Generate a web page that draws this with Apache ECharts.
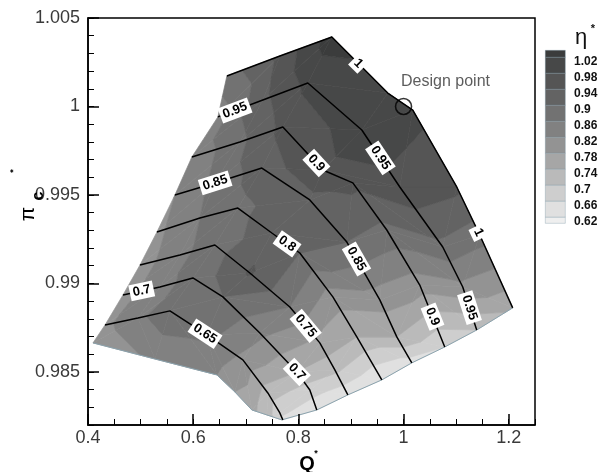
<!DOCTYPE html>
<html><head><meta charset="utf-8">
<script src="https://cdn.jsdelivr.net/npm/echarts@6/dist/echarts.min.js"></script>
<style>html,body{margin:0;padding:0;background:#fff}#c{width:599px;height:472px}</style>
</head><body><div id="c"></div>
<script>
// ---- speed lines (Q*, pi*_c) from surge to choke, and efficiency eta* at each node ----
const speeds = [0.6, 0.65, 0.7, 0.75, 0.8, 0.85, 0.9, 0.95, 1.0];
const q060 = [0.4095,0.5273,0.6451,0.6793,0.7116,0.7401,0.7572,0.7686];
const p060 = [0.98664,0.98573,0.98483,0.98387,0.98285,0.98257,0.98240,0.98229];
const e060 = [0.79,0.83,0.82,0.78,0.75,0.72,0.69,0.66];
const q065 = [0.4323,0.4950,0.5558,0.6261,0.6945,0.7420,0.7648,0.7705];
const p065 = [0.98765,0.98805,0.98845,0.98709,0.98568,0.98381,0.98268,0.98229];
const e065 = [0.81,0.85,0.89,0.87,0.81,0.72,0.67,0.65];
const q070 = [0.4665,0.5368,0.5995,0.6565,0.7268,0.7971,0.8218,0.8351];
const p070 = [0.98935,0.98980,0.99031,0.98924,0.98720,0.98500,0.98398,0.98285];
const e070 = [0.80,0.85,0.87,0.90,0.83,0.74,0.68,0.63];
const q075 = [0.4988,0.5748,0.6413,0.7078,0.7838,0.8408,0.8694,0.8941];
const p075 = [0.99104,0.99161,0.99217,0.99059,0.98867,0.98664,0.98511,0.98370];
const e075 = [0.80,0.85,0.88,0.945,0.86,0.77,0.71,0.63];
const q080 = [0.5311,0.6128,0.6850,0.7496,0.8028,0.8656,0.9112,0.9587];
const p080 = [0.99291,0.99370,0.99426,0.99285,0.99172,0.98924,0.98698,0.98455];
const e080 = [0.81,0.86,0.89,0.92,0.90,0.80,0.74,0.62];
const q085 = [0.5653,0.6413,0.7306,0.8218,0.8922,0.9549,0.9872,1.0157];
const p085 = [0.99500,0.99568,0.99652,0.99472,0.99234,0.98907,0.98698,0.98551];
const e085 = [0.82,0.87,0.92,0.93,0.90,0.80,0.74,0.64];
const q090 = [0.5976,0.6888,0.7705,0.8465,0.9036,0.9682,1.0309,1.0784];
const p090 = [0.99715,0.99799,0.99884,0.99641,0.99568,0.99302,0.98991,0.98641];
const e090 = [0.83,0.89,0.95,0.97,0.95,0.89,0.80,0.66];
const q095 = [0.6470,0.7325,0.8180,0.9207,0.9929,1.0746,1.1126,1.1392];
const p095 = [0.99941,1.00037,1.00133,0.99867,0.99545,0.99206,0.98980,0.98737];
const e095 = [0.84,0.93,0.99,1.00,0.97,0.89,0.81,0.70];
const q100 = [0.6641,0.7648,0.8637,0.9701,1.0176,1.1012,1.1449,1.2076];
const p100 = [1.00172,1.00285,1.00393,1.00076,0.99980,0.99545,0.99274,0.98862];
const e100 = [0.88,0.95,1.04,0.99,0.99,0.95,0.88,0.75];

// ---- contour levels / legend ----
const levelLabels = ['1.02','0.98','0.94','0.9','0.86','0.82','0.78','0.74','0.7','0.66','0.62'];
const levels = [1.02,0.98,0.94,0.90,0.86,0.82,0.78,0.74,0.70,0.66,0.62];
// band colours from top (> 1.02) to bottom (< 0.62)
const bandColors = ['#3b3c3c','#474848','#555555','#636363','#727272','#818181','#939393','#a6a6a6','#bababa','#cecece','#e0e0e0','#efefef'];

// ---- speed-line labels ----
const labelText = ['1','1','0.95','0.95','0.95','0.9','0.9','0.85','0.85','0.8','0.75','0.7','0.7','0.65'];
const labelLine = [8,8,7,7,7,6,6,5,5,4,3,2,2,1];
const labelQ = [0.9112,1.1449,0.6793,0.9644,1.1297,0.8408,1.0632,0.6413,0.9074,0.7743,0.8161,0.5026,0.7971,0.6223];
const labelP = [1.00234,0.99291,0.99980,0.99726,0.98867,0.99698,0.98822,0.99573,0.99133,0.99206,0.98765,0.98952,0.98500,0.98715];

const designPoint = [1.0, 1.0];

const xTicks = [0.4,0.6,0.8,1,1.2];
const yTicks = [0.985,0.99,0.995,1,1.005];

// ---------------------------------------------------------------
const lines = [
  {q:q060,p:p060,e:e060},{q:q065,p:p065,e:e065},{q:q070,p:p070,e:e070},
  {q:q075,p:p075,e:e075},{q:q080,p:p080,e:e080},{q:q085,p:p085,e:e085},
  {q:q090,p:p090,e:e090},{q:q095,p:p095,e:e095},{q:q100,p:p100,e:e100}
];
const asc = levels.slice().reverse(); // 0.62 .. 1.02
const bandLo = [-Infinity].concat(asc);
const bandHi = asc.concat([Infinity]);
const bandFill = bandColors.slice().reverse(); // from lowest band upwards

function clip(poly, lv, keepAbove) {
  const out = [];
  for (let i = 0; i < poly.length; i++) {
    const a = poly[i], b = poly[(i + 1) % poly.length];
    const ina = keepAbove ? a.v >= lv : a.v <= lv;
    const inb = keepAbove ? b.v >= lv : b.v <= lv;
    if (ina) out.push(a);
    if (ina !== inb) {
      const t = (lv - a.v) / (b.v - a.v);
      out.push({x: a.x + t * (b.x - a.x), y: a.y + t * (b.y - a.y), v: lv});
    }
  }
  return out;
}

const cellData = [];
for (let r = 0; r < lines.length - 1; r++)
  for (let c = 0; c < lines[r].q.length - 1; c++)
    cellData.push([lines[r].q[c], lines[r].p[c], r, c]);

function renderCell(params, api) {
  const r = api.value(2), c = api.value(3);
  const L0 = lines[r], L1 = lines[r + 1];
  const pt = (L, j) => { const xy = api.coord([L.q[j], L.p[j]]); return {x: xy[0], y: xy[1], v: L.e[j]}; };
  const A = pt(L0, c), B = pt(L0, c + 1), C = pt(L1, c + 1), D = pt(L1, c);
  const children = [];
  [[A, B, C], [A, C, D]].forEach(tri => {
    for (let b = 0; b < bandLo.length; b++) {
      let poly = tri;
      if (isFinite(bandLo[b])) poly = clip(poly, bandLo[b], true);
      if (poly.length < 3) continue;
      if (isFinite(bandHi[b])) poly = clip(poly, bandHi[b], false);
      if (poly.length < 3) continue;
      children.push({type: 'polygon', shape: {points: poly.map(p => [p.x, p.y])},
        style: {fill: bandFill[b], stroke: bandFill[b], lineWidth: 0.7}});
    }
  });
  return {type: 'group', children};
}

const labelData = labelQ.map((q, i) => [q, labelP[i], labelLine[i]]);
function renderLabel(params, api) {
  const i = params.dataIndex;
  const pos = api.coord([api.value(0), api.value(1)]);
  const L = lines[api.value(2)];
  let best = 1e9, ang = 0, px = pos[0], py = pos[1];
  for (let j = 0; j < L.q.length - 1; j++) {
    const a = api.coord([L.q[j], L.p[j]]), b = api.coord([L.q[j + 1], L.p[j + 1]]);
    const dx = b[0] - a[0], dy = b[1] - a[1];
    let t = ((pos[0] - a[0]) * dx + (pos[1] - a[1]) * dy) / (dx * dx + dy * dy);
    t = Math.max(0, Math.min(1, t));
    const cx = a[0] + t * dx, cy = a[1] + t * dy;
    const d = Math.hypot(pos[0] - cx, pos[1] - cy);
    if (d < best) { best = d; ang = Math.atan2(dy, dx); px = cx; py = cy; }
  }
  return {type: 'text', x: px, y: py, rotation: -ang, z2: 10,
    style: {text: labelText[i], font: 'bold 13px "Liberation Sans", Arial, sans-serif', fill: '#000',
      align: 'center', verticalAlign: 'middle', backgroundColor: '#fff', padding: [2, 3, 1, 3]}};
}

const FONT = '"Liberation Sans", Arial, Helvetica, sans-serif';
const series = [
  {type: 'custom', name: 'field', renderItem: renderCell, data: cellData, encode: {x: 0, y: 1}, z: 1, silent: true, clip: false}
];
// domain edge (lowest speed line and choke boundary)
series.push({type: 'line', data: q060.map((q, i) => [q, p060[i]]), symbol: 'none', lineStyle: {color: '#8aa2ad', width: 1}, z: 3, silent: true});
series.push({type: 'line', data: lines.map(L => [L.q[L.q.length - 1], L.p[L.p.length - 1]]), symbol: 'none', lineStyle: {color: '#8aa2ad', width: 1}, z: 3, silent: true});
for (let r = 1; r < lines.length; r++) {
  series.push({type: 'line', name: 'speed ' + speeds[r], data: lines[r].q.map((q, i) => [q, lines[r].p[i]]),
    symbol: 'none', lineStyle: {color: '#000', width: 1.5}, z: 5, silent: true});
}
series.push({type: 'custom', name: 'labels', renderItem: renderLabel, data: labelData, encode: {x: 0, y: 1}, z: 8, silent: true, clip: false});
series.push({type: 'scatter', data: [designPoint], symbol: 'circle', symbolSize: 16, z: 9,
  itemStyle: {color: 'rgba(0,0,0,0)', borderColor: '#000', borderWidth: 1.6},
  label: {show: true, formatter: 'Design point', position: 'top', offset: [42, -3], fontSize: 16, fontFamily: FONT, color: '#333'}});

// legend graphic
const graphic = [];
for (let i = 0; i < bandColors.length; i++) {
  const y = i === 0 ? 50 : 57 + 16 * (i - 1);
  const h = i === 0 ? 7 : (i === bandColors.length - 1 ? 6 : 16);
  graphic.push({type: 'rect', left: 545, top: y, shape: {width: 20, height: h},
    style: {fill: bandColors[i], stroke: 'rgba(110,140,155,0.55)', lineWidth: 0.6}, z: 20});
}
levelLabels.forEach((t, k) => {
  graphic.push({type: 'text', x: 574, y: 62 + 16 * k, z: 20,
    style: {text: t, font: 'bold 12px ' + FONT, fill: '#111', align: 'left', verticalAlign: 'middle'}});
});
graphic.push({type: 'text', x: 581, y: 38, z: 20, style: {text: 'η', font: '22px ' + FONT, fill: '#111', align: 'center', verticalAlign: 'middle'}});
graphic.push({type: 'text', x: 593, y: 29, z: 20, style: {text: '*', font: 'bold 11px ' + FONT, fill: '#111', align: 'center', verticalAlign: 'middle'}});
// axis titles
graphic.push({type: 'text', x: 307, y: 464, z: 20, style: {text: 'Q', font: 'bold 20px ' + FONT, fill: '#000', align: 'center', verticalAlign: 'middle'}});
graphic.push({type: 'text', x: 316, y: 454, z: 20, style: {text: '*', font: 'bold 9px ' + FONT, fill: '#000', align: 'center', verticalAlign: 'middle'}});
graphic.push({type: 'text', x: 28, y: 214, rotation: Math.PI / 2, z: 20, style: {text: 'π', font: '21px ' + FONT, fill: '#000', align: 'center', verticalAlign: 'middle'}});
graphic.push({type: 'text', x: 39, y: 196, rotation: Math.PI / 2, z: 20, style: {text: 'c', font: 'bold 16px ' + FONT, fill: '#000', align: 'center', verticalAlign: 'middle'}});
graphic.push({type: 'text', x: 14, y: 171, rotation: Math.PI / 2, z: 20, style: {text: '*', font: 'bold 9px ' + FONT, fill: '#000', align: 'center', verticalAlign: 'middle'}});

const labelStyle = {fontSize: 18, fontFamily: FONT, color: '#3a3a3a'};
const option = {
  animation: false,
  backgroundColor: '#fff',
  grid: {left: 88, top: 18, right: 64, bottom: 47, show: true, borderColor: '#000', borderWidth: 1.5, backgroundColor: 'transparent', z: 10},
  xAxis: [
    {type: 'value', min: 0.4, max: 1.25, interval: 0.2, position: 'bottom',
      axisLine: {lineStyle: {color: '#000', width: 1.5}},
      axisTick: {inside: true, length: 11, lineStyle: {color: '#000', width: 1.5}, customValues: xTicks},
      axisLabel: Object.assign({margin: 4, customValues: xTicks}, labelStyle),
      splitLine: {show: false}, z: 10},
    {type: 'value', min: 0.4, max: 1.25, interval: 0.05, position: 'bottom',
      axisLine: {show: false}, axisTick: {inside: true, length: 6, lineStyle: {color: '#000', width: 1}},
      axisLabel: {show: false}, splitLine: {show: false}, z: 10}
  ],
  yAxis: [
    {type: 'value', min: 0.982, max: 1.005, position: 'left',
      axisLine: {lineStyle: {color: '#000', width: 1.5}},
      axisTick: {inside: true, length: 11, lineStyle: {color: '#000', width: 1.5}, customValues: yTicks},
      axisLabel: Object.assign({margin: 8, customValues: yTicks}, labelStyle),
      splitLine: {show: false}, z: 10},
    {type: 'value', min: 0.982, max: 1.005, interval: 0.001, position: 'left',
      axisLine: {show: false}, axisTick: {inside: true, length: 6, lineStyle: {color: '#000', width: 1}},
      axisLabel: {show: false}, splitLine: {show: false}, z: 10}
  ],
  series: series,
  graphic: graphic
};
const chart = echarts.init(document.getElementById('c'), null, {renderer: 'canvas'});
chart.setOption(option);
</script>
</body></html>
